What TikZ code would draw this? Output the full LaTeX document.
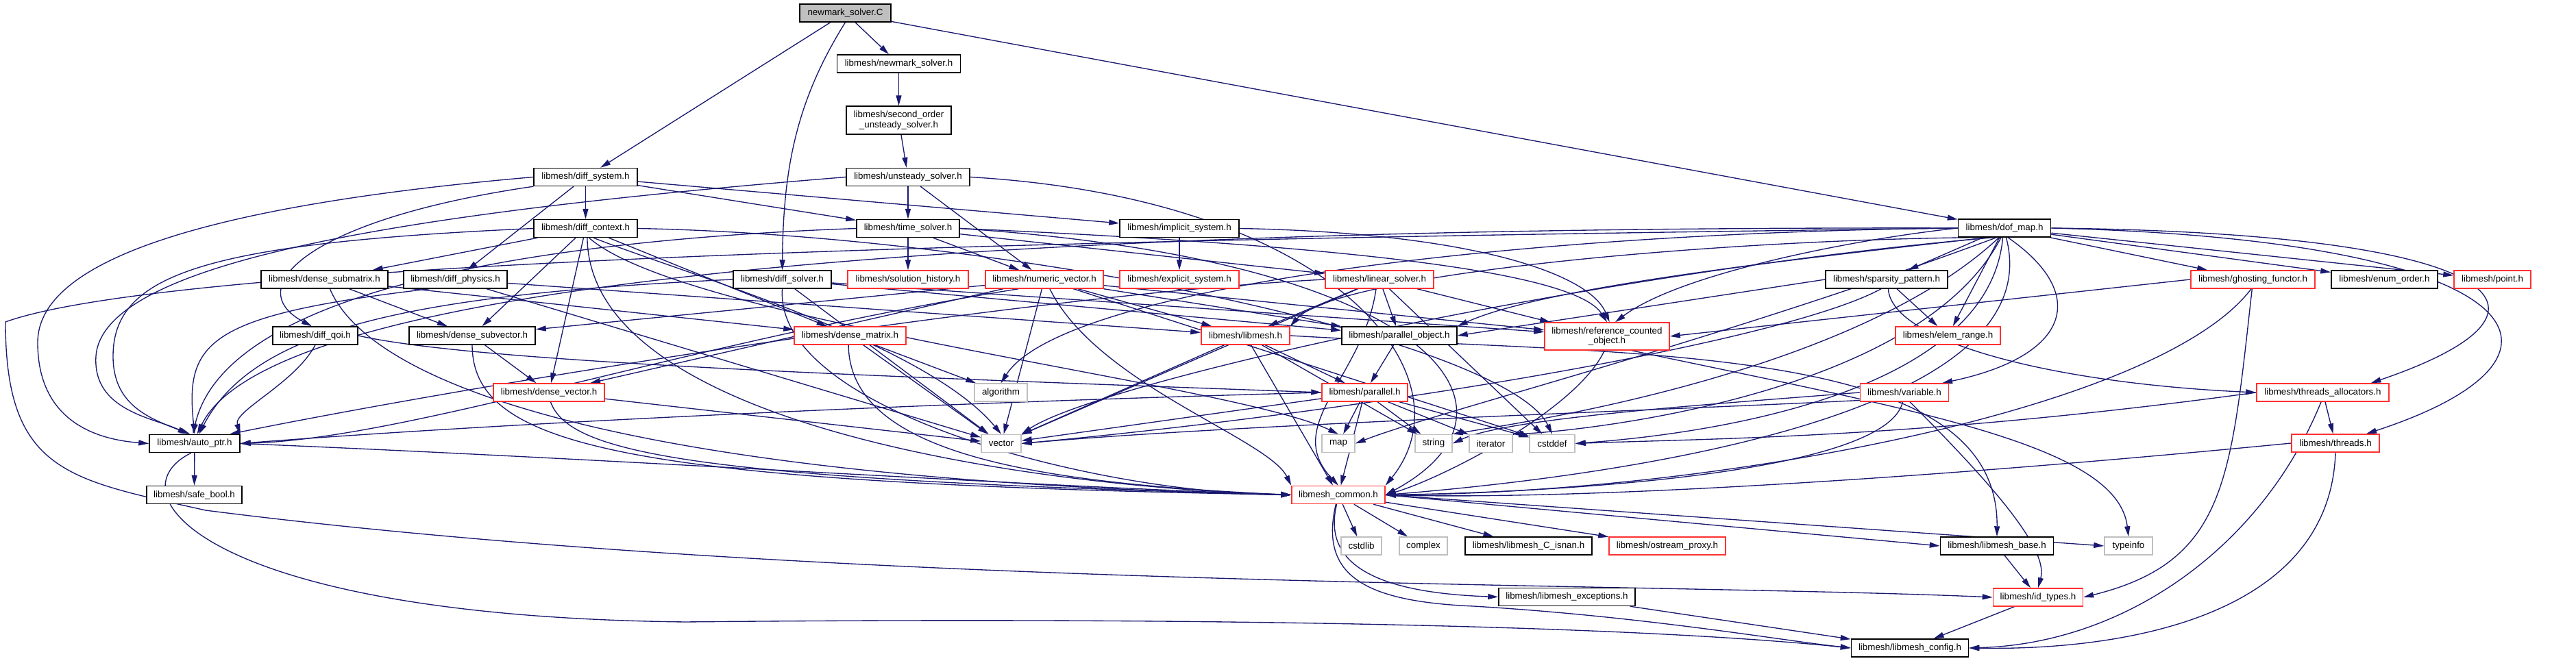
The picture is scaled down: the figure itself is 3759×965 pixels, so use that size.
\documentclass[tikz,border=0pt]{standalone}
\usepackage{fontspec}
\newfontfamily\labfont{Liberation Sans}
\usetikzlibrary{arrows.meta}
\definecolor{navy}{HTML}{191970}
\definecolor{nodegray}{HTML}{BFBFBF}
\definecolor{boxred}{HTML}{FF3030}
\pgfdeclarelayer{back}
\pgfdeclarelayer{bg}
\pgfsetlayers{back,bg,main}
\begin{document}
\begin{tikzpicture}[x=0.01cm,y=-0.01cm,
  bx/.style={draw=black,line width=0.4pt,fill=white,inner sep=0pt,minimum height=0.26cm,align=center,font=\labfont\fontsize{3.8}{4.2}\selectfont},
  rbx/.style={bx,draw=boxred},
  gbx/.style={bx,draw=nodegray},
  edg/.style={draw=navy,line width=0.38pt,-{Triangle[length=1.5mm,width=0.8mm]}}]
\begin{pgfonlayer}{back}
\fill[white] (0,0) rectangle (3759,965);
\end{pgfonlayer}
\useasboundingbox (0,0) rectangle (3759,965);
% nodes
\node[bx,fill=nodegray,minimum width=1.33cm] (nmC) at (1233.5,19) {newmark\_solver.C};
\node[bx,minimum width=1.80cm] (nmh) at (1311.5,93) {libmesh/newmark\_solver.h};
\node[bx,minimum width=1.53cm,minimum height=0.41cm] (sous) at (1311.5,175.5) {libmesh/second\_order\\\_unsteady\_solver.h};
\node[bx,minimum width=1.80cm] (uss) at (1325,258.5) {libmesh/unsteady\_solver.h};
\node[bx,minimum width=1.51cm] (dsys) at (854.5,258.5) {libmesh/diff\_system.h};
\node[bx,minimum width=1.51cm] (dctx) at (854.5,333.5) {libmesh/diff\_context.h};
\node[bx,minimum width=1.50cm] (tsol) at (1325,333.5) {libmesh/time\_solver.h};
\node[bx,minimum width=1.74cm] (isys) at (1721,333.5) {libmesh/implicit\_system.h};
\node[bx,minimum width=1.35cm] (dof) at (2925,333) {libmesh/dof\_map.h};
\node[bx,minimum width=1.85cm] (dsubm) at (473.5,408) {libmesh/dense\_submatrix.h};
\node[bx,minimum width=1.51cm] (dphys) at (664.5,408) {libmesh/diff\_physics.h};
\node[bx,minimum width=1.43cm] (dsolv) at (1141.5,408) {libmesh/diff\_solver.h};
\node[rbx,minimum width=1.76cm] (shist) at (1325,408) {libmesh/solution\_history.h};
\node[rbx,minimum width=1.72cm] (nvec) at (1524,408) {libmesh/numeric\_vector.h};
\node[rbx,minimum width=1.74cm] (esys) at (1721,408) {libmesh/explicit\_system.h};
\node[rbx,minimum width=1.58cm] (lsol) at (2013,408) {libmesh/linear\_solver.h};
\node[bx,minimum width=1.78cm] (spat) at (2753,408) {libmesh/sparsity\_pattern.h};
\node[rbx,minimum width=1.81cm] (ghost) at (3287.5,408) {libmesh/ghosting\_functor.h};
\node[bx,minimum width=1.55cm] (eord) at (3479.5,408) {libmesh/enum\_order.h};
\node[rbx,minimum width=1.12cm] (point) at (3637,408) {libmesh/point.h};
\node[bx,minimum width=1.24cm] (dqoi) at (460,490) {libmesh/diff\_qoi.h};
\node[bx,minimum width=1.84cm] (dsubv) at (689,490) {libmesh/dense\_subvector.h};
\node[rbx,minimum width=1.63cm] (dmat) at (1240.5,490) {libmesh/dense\_matrix.h};
\node[rbx,minimum width=1.29cm] (lmh) at (1817.5,490) {libmesh/libmesh.h};
\node[bx,minimum width=1.68cm] (pobj) at (2042,490) {libmesh/parallel\_object.h};
\node[rbx,minimum width=1.82cm,minimum height=0.40cm] (rco) at (2345,491) {libmesh/reference\_counted\\\_object.h};
\node[rbx,minimum width=1.53cm] (erange) at (2842.5,490) {libmesh/elem\_range.h};
\node[rbx,minimum width=1.62cm] (dvec) at (801,573) {libmesh/dense\_vector.h};
\node[gbx,minimum width=0.77cm] (algo) at (1460.5,573) {algorithm};
\node[rbx,minimum width=1.25cm] (par) at (1991.5,573) {libmesh/parallel.h};
\node[rbx,minimum width=1.29cm] (var) at (2779,573) {libmesh/variable.h};
\node[rbx,minimum width=1.93cm] (talloc) at (3389.5,573) {libmesh/threads\_allocators.h};
\node[bx,minimum width=1.32cm] (aptr) at (284,647.5) {libmesh/auto\_ptr.h};
\node[gbx,minimum width=0.58cm] (vec) at (1461,647.5) {vector};
\node[gbx,minimum width=0.48cm] (map) at (1953,647.5) {map};
\node[gbx,minimum width=0.54cm] (str) at (2092,647.5) {string};
\node[gbx,minimum width=0.63cm] (iter) at (2175.5,647.5) {iterator};
\node[gbx,minimum width=0.66cm] (cdef) at (2265,647.5) {cstddef};
\node[rbx,minimum width=1.28cm] (thr) at (3408,647) {libmesh/threads.h};
\node[bx,minimum width=1.39cm] (sbool) at (283.5,722.5) {libmesh/safe\_bool.h};
\node[rbx,minimum width=1.36cm] (lcom) at (1953,722.5) {libmesh\_common.h};
\node[gbx,minimum width=0.59cm] (cstdlib) at (1986.5,797) {cstdlib};
\node[gbx,minimum width=0.70cm] (cplx) at (2077,797) {complex};
\node[bx,minimum width=1.85cm] (isnan) at (2230.5,797) {libmesh/libmesh\_C\_isnan.h};
\node[rbx,minimum width=1.70cm] (ostr) at (2433,797) {libmesh/ostream\_proxy.h};
\node[bx,minimum width=1.65cm] (lbase) at (2914,797) {libmesh/libmesh\_base.h};
\node[gbx,minimum width=0.70cm] (tinfo) at (3106,797) {typeinfo};
\node[bx,minimum width=1.99cm] (lexc) at (2286.5,871.5) {libmesh/libmesh\_exceptions.h};
\node[rbx,minimum width=1.31cm] (idt) at (2974,872) {libmesh/id\_types.h};
\node[bx,minimum width=1.71cm] (lcfg) at (2787,946) {libmesh/libmesh\_config.h};
\begin{pgfonlayer}{bg}
% newmark_solver.C
\draw[edg] (nmC) -- (dsys);
\draw[edg] (nmC) -- (nmh);
\draw[edg] (nmC.south) .. controls (1160,150) and (1143,250) .. (dsolv.north);
\draw[edg] (nmC) -- (dof);
\draw[edg] (nmh) -- (sous);
\draw[edg] (sous) -- (uss);
% unsteady_solver
\draw[edg] (uss) -- (tsol);
\draw[edg] (uss) -- (nvec);
\draw[edg] (uss.west) .. controls (600,310) and (150,380) .. (140,520) .. controls (135,600) and (225,610) .. (aptr.125);
\draw[edg] (uss.east) .. controls (1950,290) and (2150,550) .. (lcom.north east);
% diff_system
\draw[edg] (dsys.west) .. controls (300,300) and (55,380) .. (55,500) .. controls (55,600) and (120,640) .. (aptr.west);
\draw[edg] (dsys.south west) .. controls (450,320) and (350,420) .. (dqoi.110);
\draw[edg] (dsys) -- (dphys);
\draw[edg] (dsys) -- (dctx);
\draw[edg] (dsys) -- (tsol);
\draw[edg] (dsys) -- (isys);
% diff_context
\draw[edg] (dctx) -- (dsubm);
\draw[edg] (dctx) -- (dsubv);
\draw[edg] (dctx) -- (dvec);
\draw[edg] (dctx) -- (dmat);
\draw[edg] (dctx.west) .. controls (300,355) and (165,400) .. (165,520) .. controls (165,590) and (215,610) .. (aptr.115);
\draw[edg] (dctx.-50) .. controls (1000,400) and (1350,500) .. (vec.north);
\draw[edg] (dctx.-70) .. controls (1000,470) and (1800,560) .. (map.north);
\draw[edg] (dctx.-80) .. controls (860,620) and (1500,710) .. (lcom.west);
\draw[edg] (dctx.east) .. controls (1500,345) and (2200,500) .. (cdef.north);
% diff_physics
\draw[edg] (dphys.200) .. controls (300,460) and (270,500) .. (aptr.north);
\draw[edg] (dphys) -- (lmh);
\draw[edg] (dphys) -- (vec);
% dense_submatrix
\draw[edg] (dsubm) -- (dsubv);
\draw[edg] (dsubm.-60) .. controls (540,560) and (900,700) .. (lcom.west);
\draw[edg] (dsubm) -- (dmat);
% diff_solver
\draw[edg] (dsolv.west) .. controls (600,430) and (370,480) .. (aptr.65);
\draw[edg] (dsolv.south) .. controls (1130,600) and (1600,720) .. (lcom.west);
\draw[edg] (dsolv) -- (rco);
\draw[edg] (dsolv) -- (pobj);
\draw[edg] (dsolv) -- (vec);
% diff_qoi
\draw[edg] (dqoi.south) .. controls (430,560) and (340,600) .. (aptr.north east);
\draw[edg] (dqoi.east) .. controls (700,530) and (1300,550) .. (par.west);
% dense_subvector, dense_vector, dense_matrix
\draw[edg] (dsubv) -- (dvec);
\draw[edg] (dsubv.south) .. controls (690,650) and (900,705) .. (lcom.west);
\draw[edg] (dvec.-80) .. controls (830,660) and (1000,700) .. (lcom.west);
\draw[edg] (dvec) -- (vec);
\draw[edg] (dmat) -- (algo);
\draw[edg] (dmat) -- (vec);
\draw[edg] (dmat.-100) .. controls (1240,660) and (1500,705) .. (lcom.west);
% numeric_vector
\draw[edg] (nvec.200) .. controls (1000,500) and (600,640) .. (aptr.east);
\draw[edg] (nvec) -- (dsubv);
\draw[edg] (nvec) -- (dvec);
\draw[edg] (nvec) -- (lmh);
\draw[edg] (nvec) -- (pobj);
\draw[edg] (nvec) -- (rco);
\draw[edg] (nvec) -- (cdef);
\draw[edg] (nvec) -- (vec);
\draw[edg] (nvec.-60) .. controls (1600,560) and (1850,640) .. (lcom.north west);
% linear_solver
\draw[edg] (lsol) -- (lmh);
\draw[edg] (lsol) -- (pobj);
\draw[edg] (lsol) -- (rco);
\draw[edg] (lsol.west) .. controls (1500,430) and (700,560) .. (aptr.15);
\draw[edg] (lsol.-110) .. controls (1990,550) and (1870,620) .. (lcom.north);
\draw[edg] (lsol) -- (cdef);
\draw[edg] (lsol) -- (vec);
% time_solver
\draw[edg] (tsol) -- (shist);
\draw[edg] (tsol) -- (nvec);
\draw[edg] (tsol) -- (lsol);
\draw[edg] (tsol.east) .. controls (2000,360) and (2300,400) .. (rco.north);
\draw[edg] (tsol.west) .. controls (800,350) and (330,420) .. (aptr.100);
\draw[edg] (tsol.east) .. controls (2100,380) and (2250,600) .. (lcom.east);
% implicit_system
\draw[edg] (isys) -- (esys);
\draw[edg] (isys.east) .. controls (2150,340) and (2320,400) .. (rco.80);
% dof_map
\draw[edg] (dof) -- (spat);
\draw[edg] (dof) -- (erange);
\draw[edg] (dof) -- (ghost);
\draw[edg] (dof) -- (eord);
\draw[edg] (dof) -- (point);
\draw[edg] (dof.east) .. controls (3650,340) and (3780,450) .. ([xshift=0.7cm]talloc.north);
\draw[edg] (dof.east) .. controls (3700,350) and (3800,520) .. ([xshift=0.45cm]thr.north);
\draw[edg] (dof.-70) .. controls (3050,430) and (3020,520) .. ([xshift=0.55cm]var.north);
\draw[edg] (dof.200) .. controls (2500,350) and (1950,400) .. (lmh.north east);
\draw[edg] (dof.west) .. controls (2700,350) and (2450,400) .. (rco.60);
\draw[edg] (dof.210) .. controls (2600,380) and (2250,420) .. (pobj.north east);
\draw[edg] (dof.west) .. controls (1500,330) and (400,400) .. (aptr.75);
\draw[edg] (dof.west) .. controls (2200,340) and (1550,420) .. (algo.north);
\draw[edg] (dof.220) .. controls (2300,400) and (1600,560) .. (vec.north east);
\draw[edg] (dof.230) .. controls (2500,500) and (2100,600) .. (map.east);
\draw[edg] (dof.240) .. controls (2700,550) and (2200,620) .. (str.north east);
\draw[edg] (dof.250) .. controls (2800,580) and (2300,630) .. (iter.north east);
\draw[edg] (dof.260) .. controls (2900,600) and (2400,640) .. (cdef.east);
\draw[edg] (dof.west) .. controls (2000,345) and (300,365) .. (8,470) .. controls (8,690) and (100,700) .. (300,745) .. controls (1200,860) and (2400,850) .. (idt.west);
\draw[edg] (dof.-80) .. controls (3000,620) and (2300,700) .. (lcom.east);
% sparsity_pattern
\draw[edg] (spat) -- (erange);
\draw[edg] (spat.-80) .. controls (2760,500) and (3000,560) .. (talloc.west);
\draw[edg] (spat.west) -- (pobj.east);
\draw[edg] (spat.-120) .. controls (2600,500) and (2000,600) .. (vec.east);
% ghosting_functor
\draw[edg] (ghost.west) -- (rco.east);
\draw[edg] (ghost.-95) .. controls (3255,700) and (3250,820) .. (idt.east);
\draw[edg] (ghost.-100) .. controls (3150,600) and (2500,720) .. (lcom.east);
% variable
\draw[edg] (var.-100) .. controls (2750,700) and (2200,720) .. (lcom.east);
\draw[edg] (var.-60) .. controls (2900,700) and (2990,800) .. (idt.north);
\draw[edg] (var.west) .. controls (2500,590) and (2200,610) .. (str.east);
\draw[edg] (var.190) .. controls (2400,600) and (1800,620) .. (vec.east);
% threads_allocators, threads
\draw[edg] (talloc) -- (thr);
\draw[edg] (talloc.-100) .. controls (3300,800) and (3100,940) .. (lcfg.east);
\draw[edg] (talloc.west) .. controls (2800,640) and (2500,640) .. (cdef.east);
\draw[edg] (thr.west) .. controls (2800,700) and (2300,730) .. (lcom.east);
\draw[edg] (thr.south) .. controls (3400,900) and (3100,950) .. (lcfg.east);
% reference_counted_object
\draw[edg] (rco.-100) .. controls (2300,600) and (2100,700) .. (lcom.east);
\draw[edg] (rco.-30) .. controls (2800,600) and (3090,650) .. (tinfo.north);
% libmesh.h
\draw[edg] (lmh) -- (lcom);
\draw[edg] (lmh) -- (par);
\draw[edg] (lmh) -- (vec);
\draw[edg] (lmh) -- (str);
\draw[edg] (lmh.east) .. controls (2400,520) and (2917,500) .. (lbase.north);
% parallel_object, parallel
\draw[edg] (pobj) -- (par);
\draw[edg] (par) -- (map);
\draw[edg] (par) -- (str);
\draw[edg] (par) -- (iter);
\draw[edg] (par) -- (cdef);
\draw[edg] (par) -- (vec);
\draw[edg] (par) -- (lcom);
\draw[edg] (par.west) .. controls (1300,590) and (700,620) .. (aptr.east);
% auto_ptr
\draw[edg] (aptr) -- (sbool);
\draw[edg] (aptr.east) .. controls (900,670) and (1500,710) .. (lcom.west);
\draw[edg] (aptr.-110) .. controls (160,720) and (300,900) .. (1000,908) .. controls (1800,900) and (2400,915) .. (lcfg.west);
% libmesh_common
\draw[edg] (lcom) -- (cstdlib);
\draw[edg] (lcom) -- (cplx);
\draw[edg] (lcom) -- (isnan);
\draw[edg] (lcom) -- (ostr);
\draw[edg] (lcom.east) -- (lbase.west);
\draw[edg] (lcom.east) -- (tinfo.west);
\draw[edg] (lcom.-100) .. controls (1930,820) and (2000,865) .. (lexc.west);
\draw[edg] (lcom.-105) .. controls (1925,840) and (1990,878) .. (2150,885) .. controls (2400,900) and (2600,935) .. (lcfg.west);
\draw[edg] (lexc) -- (lcfg);
\draw[edg] (lbase) -- (idt);
\draw[edg] (idt) -- (lcfg);
\end{pgfonlayer}
\end{tikzpicture}
\end{document}
